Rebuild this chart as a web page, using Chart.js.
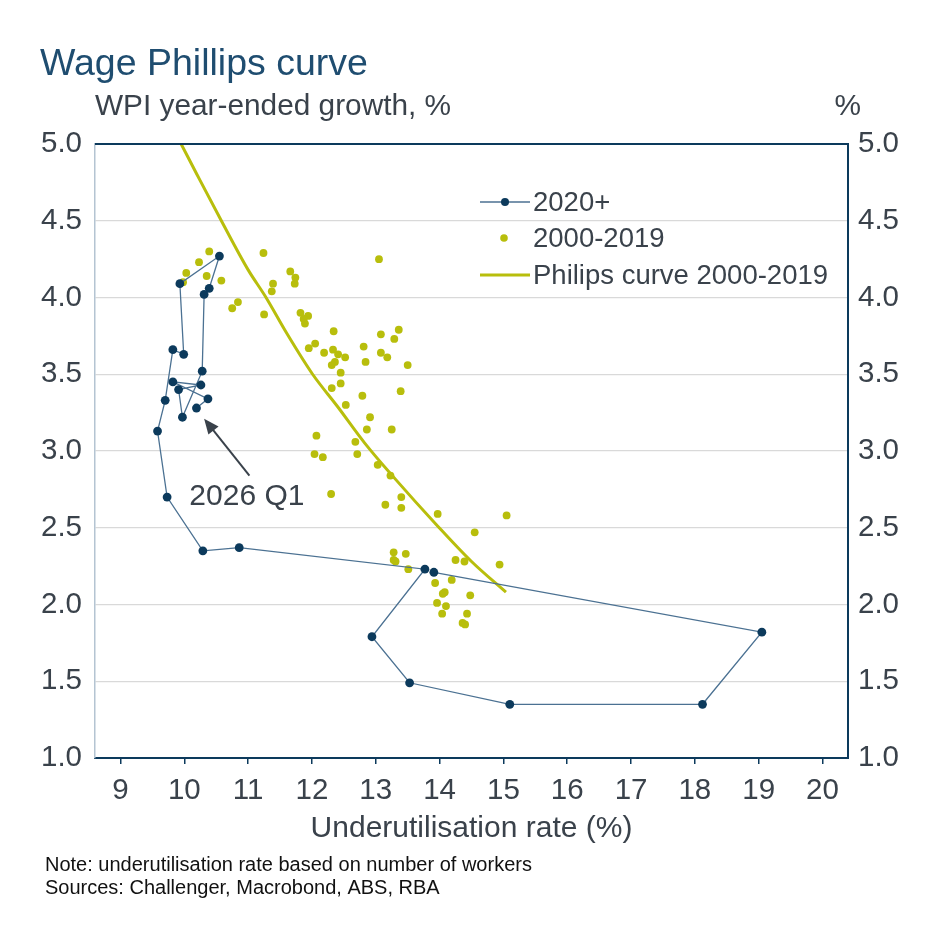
<!DOCTYPE html>
<html>
<head>
<meta charset="utf-8">
<script src="https://cdn.jsdelivr.net/npm/chart.js@4.4.1/dist/chart.umd.min.js"></script>
<style>
  html, body { margin: 0; padding: 0; background: #fff; }
  #wrap { width: 943px; height: 943px; }
</style>
</head>
<body>
<div id="wrap"><canvas id="chart" width="943" height="943"></canvas></div>
<script>
// 2020+ quarterly path (2020 Q1 .. 2026 Q1)
var recentX = [13.91, 19.05, 18.12, 15.10, 13.53, 12.94, 13.77, 10.86, 10.29, 9.73, 9.58, 9.70, 9.82,
               9.99, 9.93, 10.55, 10.39, 10.31, 10.28, 9.97, 9.91, 10.26, 9.82, 10.37, 10.19];
var recentY = [2.21, 1.82, 1.35, 1.35, 1.49, 1.79, 2.23, 2.37, 2.35, 2.70, 3.13, 3.33, 3.66,
               3.63, 4.09, 4.27, 4.06, 4.02, 3.52, 3.22, 3.40, 3.43, 3.45, 3.34, 3.28];

// 2000-2019 scatter
var histX = [10.39, 10.23, 10.03, 9.98, 10.35,
             11.24, 13.05, 10.58, 11.66, 11.74, 11.73, 11.39, 11.37, 10.84, 10.75, 11.25, 11.82, 11.94,
             11.87, 11.89, 12.34, 13.36, 13.08, 13.29, 12.05, 11.95, 12.81, 12.33, 12.19, 12.41, 12.52,
             13.08, 13.18, 12.36, 12.31, 12.84, 13.50, 12.45, 12.45, 12.31, 13.39, 12.79, 12.53, 12.91,
             12.86, 13.25, 12.07, 12.68, 12.04, 12.17, 12.71, 13.03, 13.23, 12.30, 13.40, 13.15, 13.40,
             13.97, 15.05, 14.55, 13.28, 13.47, 13.28, 13.31, 13.51, 14.25, 14.39, 14.94, 14.19, 13.93,
             14.05, 14.08, 14.48, 13.96, 14.10, 14.04, 14.43, 14.36, 14.40];
var histY = [4.30, 4.23, 4.16, 4.10, 4.14,
             4.29, 4.25, 4.11, 4.17, 4.13, 4.09, 4.09, 4.04, 3.97, 3.93, 3.89, 3.90, 3.88,
             3.86, 3.83, 3.78, 3.79, 3.76, 3.73, 3.70, 3.67, 3.68, 3.66, 3.64, 3.63, 3.61,
             3.64, 3.61, 3.58, 3.56, 3.58, 3.56, 3.51, 3.44, 3.41, 3.39, 3.36, 3.30, 3.22,
             3.14, 3.14, 3.10, 3.06, 2.98, 2.96, 2.98, 2.91, 2.84, 2.72, 2.70, 2.65, 2.63,
             2.59, 2.58, 2.47, 2.34, 2.33, 2.29, 2.28, 2.23, 2.29, 2.28, 2.26, 2.16, 2.14,
             2.07, 2.08, 2.06, 2.01, 1.99, 1.94, 1.94, 1.88, 1.87];

// fitted Phillips curve
var curveX = [9.95, 10.2, 10.58, 11.0, 11.28, 11.6, 12.01, 12.4, 12.83, 13.3, 13.95, 14.5, 15.04];
var curveY = [5.0, 4.8, 4.5, 4.18, 4.0, 3.77, 3.5, 3.29, 3.05, 2.82, 2.52, 2.28, 2.08];

var xTicks = [9, 10, 11, 12, 13, 14, 15, 16, 17, 18, 19, 20];
var yTicks = [1.0, 1.5, 2.0, 2.5, 3.0, 3.5, 4.0, 4.5, 5.0];

var seriesNames = ["2020+", "2000-2019", "Philips curve 2000-2019"];

var NAVY = "#0c3a5c";
var STEEL = "#4b7192";
var GREEN = "#b8be0c";
var TXT = "#3a424b";
var FONT = "'Liberation Sans', Arial, sans-serif";

function pts(xs, ys) {
  return xs.map(function (x, i) { return { x: x, y: ys[i] }; });
}

// titles, legend, annotation and notes
var extras = {
  id: "extras",
  afterDraw: function (chart) {
    var ctx = chart.ctx, a = chart.chartArea;
    var sx = chart.scales.x, sy = chart.scales.y;
    ctx.save();

    // top border
    ctx.strokeStyle = NAVY;
    ctx.lineWidth = 2;
    ctx.beginPath();
    ctx.moveTo(a.left, a.top);
    ctx.lineTo(a.right + 1, a.top);
    ctx.stroke();

    ctx.textBaseline = "alphabetic";
    ctx.fillStyle = "#1f4d70";
    ctx.font = "37.5px " + FONT;
    ctx.textAlign = "left";
    ctx.fillText("Wage Phillips curve", 40, 75);

    ctx.fillStyle = TXT;
    ctx.font = "29.8px " + FONT;
    ctx.fillText("WPI year-ended growth, %", 95, 115);
    ctx.textAlign = "right";
    ctx.fillText("%", 861, 115);

    // x axis title
    ctx.textAlign = "center";
    ctx.font = "30px " + FONT;
    ctx.fillText("Underutilisation rate (%)", (a.left + a.right) / 2, 837);

    // notes
    ctx.textAlign = "left";
    ctx.font = "20px " + FONT;
    ctx.fillStyle = "#111";
    ctx.fillText("Note: underutilisation rate based on number of workers", 45, 871);
    ctx.fillText("Sources: Challenger, Macrobond, ABS, RBA", 45, 894);

    // legend
    ctx.font = "27.5px " + FONT;
    ctx.fillStyle = TXT;
    ctx.textBaseline = "middle";
    var lx = 480, ly = [202, 238, 275];
    ctx.strokeStyle = STEEL; ctx.lineWidth = 1.5;
    ctx.beginPath(); ctx.moveTo(lx, ly[0]); ctx.lineTo(lx + 50, ly[0]); ctx.stroke();
    ctx.fillStyle = NAVY;
    ctx.beginPath(); ctx.arc(lx + 25, ly[0], 4, 0, Math.PI * 2); ctx.fill();
    ctx.fillStyle = GREEN;
    ctx.beginPath(); ctx.arc(lx + 24, ly[1], 3.8, 0, Math.PI * 2); ctx.fill();
    ctx.strokeStyle = GREEN; ctx.lineWidth = 3;
    ctx.beginPath(); ctx.moveTo(lx, ly[2]); ctx.lineTo(lx + 50, ly[2]); ctx.stroke();
    ctx.fillStyle = TXT;
    for (var i = 0; i < 3; i++) ctx.fillText(seriesNames[i], 533, ly[i] + 1);

    // 2026 Q1 arrow
    var tipX = sx.getPixelForValue(10.31), tipY = sy.getPixelForValue(3.21);
    var tailX = sx.getPixelForValue(11.02), tailY = sy.getPixelForValue(2.84);
    var ang = Math.atan2(tipY - tailY, tipX - tailX);
    ctx.strokeStyle = TXT; ctx.fillStyle = TXT; ctx.lineWidth = 2;
    ctx.beginPath();
    ctx.moveTo(tailX, tailY);
    ctx.lineTo(tipX - 12 * Math.cos(ang), tipY - 12 * Math.sin(ang));
    ctx.stroke();
    ctx.beginPath();
    ctx.moveTo(tipX, tipY);
    ctx.lineTo(tipX - 15 * Math.cos(ang) + 6.5 * Math.sin(ang), tipY - 15 * Math.sin(ang) - 6.5 * Math.cos(ang));
    ctx.lineTo(tipX - 15 * Math.cos(ang) - 6.5 * Math.sin(ang), tipY - 15 * Math.sin(ang) + 6.5 * Math.cos(ang));
    ctx.closePath();
    ctx.fill();
    ctx.font = "30px " + FONT;
    ctx.textAlign = "center";
    ctx.fillText("2026 Q1", sx.getPixelForValue(10.98), sy.getPixelForValue(2.70));

    ctx.restore();
  }
};

var tickFont = { family: FONT, size: 29.5 };

new Chart(document.getElementById("chart").getContext("2d"), {
  type: "scatter",
  data: {
    datasets: [
      {
        label: seriesNames[0],
        data: pts(recentX, recentY),
        showLine: true,
        borderColor: STEEL,
        borderWidth: 1.3,
        pointRadius: 4.4,
        pointBackgroundColor: NAVY,
        pointBorderWidth: 0,
        tension: 0
      },
      {
        label: seriesNames[1],
        data: pts(histX, histY),
        showLine: false,
        pointRadius: 3.9,
        pointBackgroundColor: GREEN,
        pointBorderWidth: 0
      },
      {
        label: seriesNames[2],
        data: pts(curveX, curveY),
        showLine: true,
        borderColor: GREEN,
        borderWidth: 3,
        pointRadius: 0,
        cubicInterpolationMode: "monotone"
      }
    ]
  },
  options: {
    responsive: false,
    animation: false,
    layout: { padding: { top: 144, left: 0, right: 0, bottom: 0 } },
    plugins: { legend: { display: false }, tooltip: { enabled: false } },
    scales: {
      x: {
        type: "linear",
        position: "bottom",
        min: 8.6,
        max: 20.4,
        afterBuildTicks: function (s) { s.ticks = xTicks.map(function (v) { return { value: v }; }); },
        afterFit: function (s) { s.height = 185; },
        border: { color: NAVY, width: 2 },
        grid: { drawOnChartArea: false, color: NAVY, lineWidth: 1.5, tickLength: 6 },
        ticks: { font: tickFont, color: TXT, padding: 9, maxRotation: 0 }
      },
      y: {
        type: "linear",
        position: "left",
        min: 1,
        max: 5,
        afterBuildTicks: function (s) { s.ticks = yTicks.map(function (v) { return { value: v }; }); },
        afterFit: function (s) { s.width = 95; },
        border: { color: "#b4c4d2", width: 1.5 },
        grid: {
          drawTicks: false,
          color: function (c) { return (c.tick && (c.tick.value === 1 || c.tick.value === 5)) ? "rgba(0,0,0,0)" : "#d9d9d9"; },
          lineWidth: 1.2
        },
        ticks: { font: tickFont, color: TXT, padding: 13, callback: function (v) { return v.toFixed(1); } }
      },
      y2: {
        type: "linear",
        position: "right",
        min: 1,
        max: 5,
        afterBuildTicks: function (s) { s.ticks = yTicks.map(function (v) { return { value: v }; }); },
        afterFit: function (s) { s.width = 95; },
        border: { color: NAVY, width: 2 },
        grid: { display: false, drawTicks: false },
        ticks: { font: tickFont, color: TXT, padding: 10, callback: function (v) { return v.toFixed(1); } }
      }
    }
  },
  plugins: [extras]
});
</script>
</body>
</html>
